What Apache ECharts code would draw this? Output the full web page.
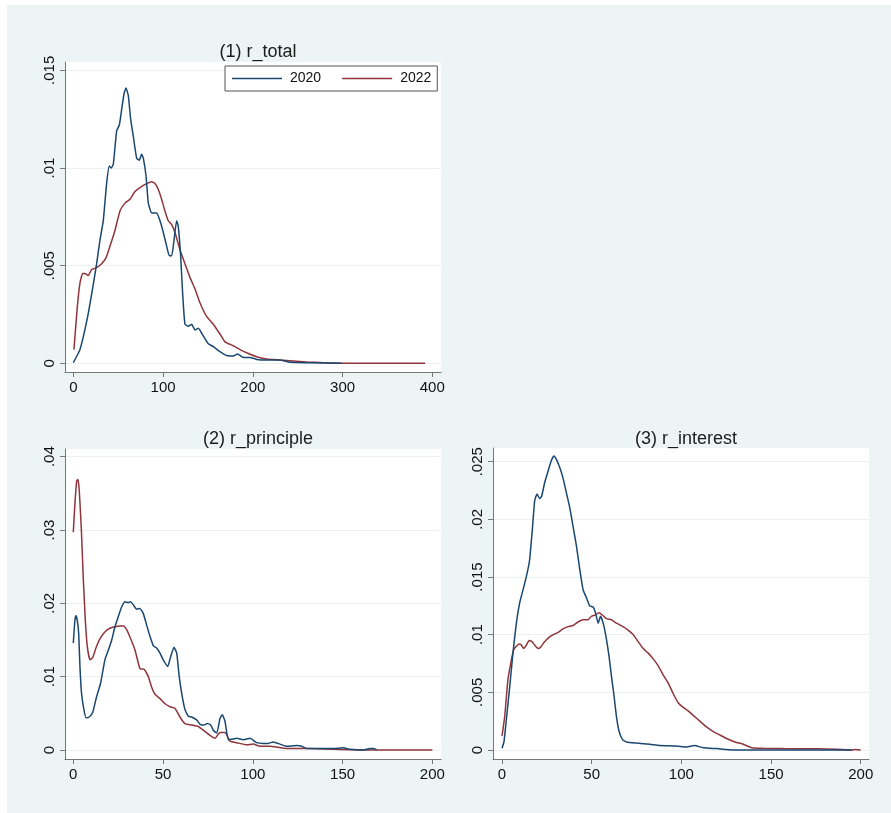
<!DOCTYPE html>
<html>
<head>
<meta charset="utf-8">
<script src="https://cdn.jsdelivr.net/npm/echarts@6/dist/echarts.min.js"></script>
<style>
html,body{margin:0;padding:0;background:#fff;}
#wrap{position:relative;width:891px;height:813px;}
#bg{position:absolute;left:7px;top:5px;width:884px;height:808px;background:#ECF4F6;}
#chart{position:absolute;left:0;top:0;width:891px;height:813px;}
</style>
</head>
<body>
<div id="wrap"><div id="bg"></div><div id="chart"></div></div>
<script>
// ---- data (x, density) ----
const total2020 = [[0,0.00003],[7.4,0.0007],[15.6,0.0023],[21,0.0037],[26,0.0051],[29.7,0.0063],[33.4,0.0073],[37.1,0.0092],[40.1,0.0101],[42.3,0.0100],[44.6,0.0102],[48.3,0.0119],[51.3,0.0122],[53.9,0.0130],[56.5,0.0138],[58.7,0.0141],[61.3,0.0137],[63.9,0.0125],[66.9,0.0116],[70.6,0.0105],[73.5,0.0104],[76.1,0.0107],[78,0.0105],[81,0.0096],[83.6,0.0082],[87.3,0.0077],[92.9,0.0077],[96.6,0.0073],[100.3,0.0067],[104,0.0060],[107,0.0055],[109.6,0.0055],[112.2,0.0063],[115.1,0.0073],[117,0.0070],[119.6,0.0055],[121.8,0.0036],[124.4,0.0020],[128.1,0.0019],[131.9,0.0020],[135.6,0.0017],[139.3,0.0018],[144.8,0.0014],[150.4,0.0010],[156,0.00085],[163.4,0.0006],[170.8,0.0004],[178.3,0.00037],[183,0.00048],[189.4,0.0003],[196.8,0.0003],[204.3,0.0002],[215.4,0.00017],[230.3,0.00017],[241.4,0.00005],[263.7,0.00003],[299,0]];
const total2022 = [[0.7,0.0007],[4.5,0.0029],[7.4,0.0041],[10.4,0.0046],[13,0.0046],[16.7,0.0045],[20.4,0.0048],[26,0.0049],[31.6,0.0051],[36.4,0.0054],[40.9,0.0060],[46.4,0.0068],[52,0.0078],[57.6,0.0082],[63.2,0.0084],[68.7,0.0088],[74.3,0.0090],[81.7,0.0092],[87.3,0.0093],[91,0.0092],[94.7,0.0089],[98.4,0.0084],[102.1,0.0078],[105.8,0.0073],[109.6,0.0071],[113.3,0.0067],[118.9,0.0058],[124.4,0.0051],[130,0.0044],[135.6,0.0038],[141.1,0.0031],[148.5,0.0024],[156,0.0020],[163.4,0.0015],[169,0.0011],[178.3,0.0009],[185.7,0.0007],[195,0.0005],[204.3,0.00034],[215.4,0.00022],[230,0.00017],[245,0.00012],[260,0.00007],[278.5,0.00003],[308,0],[392,0]];
const principle2020 = [[0,0.0146],[0.9,0.0177],[1.5,0.0183],[2.2,0.0177],[3,0.0159],[3.7,0.0114],[4.6,0.0077],[5.9,0.0055],[7.1,0.0044],[8.9,0.0045],[10.8,0.0051],[13,0.0073],[15.2,0.0091],[17.6,0.0123],[19.5,0.0136],[21.4,0.0150],[23.2,0.0168],[25.1,0.0182],[26.9,0.0195],[28.8,0.0202],[30.6,0.0201],[31.9,0.0202],[33.4,0.0198],[35.3,0.0192],[37.1,0.0193],[39,0.0186],[40.9,0.0170],[42.7,0.0155],[44.6,0.0142],[46.4,0.0139],[48.3,0.0132],[50.1,0.0123],[52.6,0.0114],[54.2,0.0127],[56.1,0.0140],[57.6,0.0132],[59,0.0100],[60.4,0.0077],[62.2,0.0055],[64.1,0.0046],[65.9,0.0045],[68.7,0.0041],[70.6,0.0035],[72.8,0.0034],[74.6,0.0036],[76.5,0.0034],[78,0.0027],[79.9,0.0023],[81.7,0.0043],[83,0.0048],[84.5,0.0039],[86.4,0.0014],[89.1,0.0015],[91,0.0016],[94.7,0.0014],[98.4,0.0016],[102.1,0.0010],[105.8,0.0009],[108.6,0.0009],[111.4,0.0011],[115.1,0.0008],[118.8,0.0005],[124.4,0.0006],[127.2,0.0005],[130,0.0002],[137.4,0.0002],[144.8,0.0002],[150.4,0.0003],[154.1,0.0001],[161.6,0],[165.3,0.0002],[167.5,0.0002],[169,0]];
const principle2022 = [[0,0.0297],[0.9,0.0336],[1.9,0.0367],[2.6,0.0369],[3.3,0.0355],[4.5,0.0300],[5.6,0.0232],[6.7,0.0177],[7.8,0.0141],[9.3,0.0123],[10.8,0.0126],[12.6,0.0139],[14.9,0.0152],[17.6,0.0161],[20.4,0.0166],[23.2,0.0168],[26,0.0169],[27.9,0.0169],[29.7,0.0164],[31.9,0.0152],[34.4,0.0136],[37.1,0.0111],[39.4,0.0110],[41.8,0.0100],[43.6,0.0086],[45.5,0.0076],[48.3,0.0070],[51.1,0.0063],[53.9,0.0059],[56.6,0.0057],[59.4,0.0045],[62.2,0.0036],[65.9,0.0034],[69.6,0.0032],[72.4,0.0027],[76.1,0.0020],[78.9,0.0016],[81.7,0.0024],[84.5,0.0024],[87.3,0.0012],[91,0.0010],[96.6,0.0007],[100.3,0.0008],[104,0.0005],[109.6,0.0005],[113.3,0.0004],[118.8,0.0002],[126.3,0.0002],[135.6,0.00018],[144.8,0.0001],[163.4,0],[200,0]];
const interest2020 = [[0,0.00015],[1.1,0.0007],[2.4,0.0026],[4.3,0.0055],[6.1,0.0084],[8,0.0110],[9.9,0.0128],[12.1,0.0141],[14.1,0.0154],[15.4,0.0165],[16.9,0.0191],[18.2,0.0216],[19.5,0.0222],[21,0.0218],[22.1,0.0220],[23.8,0.0232],[25.7,0.0242],[27.5,0.0251],[29,0.0255],[30.3,0.0252],[32.2,0.0245],[34,0.0236],[35.9,0.0223],[37.8,0.0210],[39.6,0.0194],[41.5,0.0177],[43.3,0.0157],[45.2,0.0139],[47.1,0.0132],[48.9,0.0125],[50.8,0.0124],[52.1,0.0119],[53.6,0.0110],[54.9,0.0116],[56.4,0.0110],[57.9,0.0099],[59.7,0.0081],[61,0.0064],[62.3,0.0049],[63.8,0.0029],[65.3,0.0016],[67.2,0.0009],[69.4,0.0007],[75,0.0006],[82.4,0.0005],[88,0.0004],[97.3,0.00035],[102.9,0.00026],[107.2,0.00038],[112.2,0.0002],[119.6,0.00012],[128.9,0],[156.8,0],[195,0]];
const interest2022 = [[0,0.0012],[1.5,0.0029],[3.3,0.0061],[5.2,0.0078],[6.5,0.0087],[8,0.0090],[9.5,0.0092],[10.8,0.0091],[12.1,0.0088],[13.6,0.0091],[15.1,0.0095],[16.7,0.0094],[18.2,0.0091],[20.1,0.0088],[21.4,0.0089],[23.3,0.0093],[25.7,0.0097],[28.5,0.0100],[31.3,0.0102],[34,0.0105],[36.8,0.0107],[39.6,0.0108],[42.4,0.0111],[45.2,0.0113],[48,0.0113],[49.9,0.0116],[51.7,0.0117],[54.1,0.0119],[56,0.0117],[58.2,0.0114],[61,0.0113],[63.8,0.0110],[67.5,0.0107],[70.3,0.0104],[73.2,0.0100],[75.9,0.0094],[78.7,0.0088],[81.5,0.0084],[84.3,0.0079],[87.1,0.0073],[89.9,0.0065],[92.7,0.0058],[95.4,0.0049],[98.2,0.0041],[101,0.0037],[103.8,0.0034],[106.6,0.0030],[110.3,0.0025],[114,0.0020],[117.8,0.0016],[121.5,0.0013],[125.2,0.0010],[129.9,0.0007],[134.5,0.0005],[139.2,0.0002],[145.7,0.00015],[156.8,0.00012],[175.4,0.0001],[186.6,0.00006],[195,0],[197,0.00005],[200,0]];

const titles = ['(1) r_total', '(2) r_principle', '(3) r_interest'];
const seriesNames = ['2020', '2022'];
const xTicks1 = [0, 100, 200, 300, 400];
const xTicks23 = [0, 50, 100, 150, 200];
const yTicks1 = [0, 0.005, 0.01, 0.015];
const yLabels1 = ['0', '.005', '.01', '.015'];
const yTicks2 = [0, 0.01, 0.02, 0.03, 0.04];
const yLabels2 = ['0', '.01', '.02', '.03', '.04'];
const yTicks3 = [0, 0.005, 0.01, 0.015, 0.02, 0.025];
const yLabels3 = ['0', '.005', '.01', '.015', '.02', '.025'];

const BLUE = '#1a476f', RED = '#90353b';
const FONT = 'Liberation Sans, Arial, sans-serif';

function labelFor(ticks, labels) {
  return function (v) {
    for (let i = 0; i < ticks.length; i++) if (Math.abs(ticks[i] - v) < 1e-9) return labels[i];
    return '';
  };
}

const grids = [
  {left: 65, top: 62, width: 376, height: 310},
  {left: 65, top: 449, width: 376, height: 310},
  {left: 493, top: 448, width: 376, height: 311}
];
const xRanges = [[-9.25, 409.7], [-4.62, 204.8], [-5.02, 204.6]];
const yRanges = [[-0.000445, 0.015425], [-0.00123, 0.04105], [-0.00078, 0.02619]];
const xT = [xTicks1, xTicks23, xTicks23];
const yT = [yTicks1, yTicks2, yTicks3];
const yL = [yLabels1, yLabels2, yLabels3];
const titleX = [253, 253, 681];
const titleY = [38, 425, 425];
const data = [[total2020, total2022], [principle2020, principle2022], [interest2020, interest2022]];

const axisColor = '#777';
const option = {
  backgroundColor: 'transparent',
  animation: false,
  title: titles.map((t, i) => ({
    text: t, left: titleX[i], top: titleY[i], textAlign: 'center',
    textStyle: {fontFamily: FONT, fontSize: 18, fontWeight: 'normal', color: '#1c1c1c'}
  })),
  legend: {
    data: seriesNames,
    icon: 'rect',
    left: 225, top: 66,
    padding: [4, 6, 4, 7],
    itemWidth: 50, itemHeight: 1.5, itemGap: 21,
    backgroundColor: '#fff', borderColor: '#555', borderWidth: 1,
    textStyle: {fontFamily: FONT, fontSize: 14, color: '#111', padding: [0, 0, 0, 3], lineHeight: 17}
  },
  grid: grids.map(g => Object.assign({show: true, backgroundColor: '#fff', borderWidth: 0}, g)),
  xAxis: grids.map((g, i) => ({
    type: 'value', gridIndex: i, min: xRanges[i][0], max: xRanges[i][1],
    axisLine: {show: true, onZero: false, lineStyle: {color: axisColor, width: 1}},
    axisTick: {show: true, length: 5, customValues: xT[i], lineStyle: {color: axisColor}},
    axisLabel: {customValues: xT[i], fontFamily: FONT, fontSize: 15, color: '#111', margin: 8},
    splitLine: {show: false}
  })),
  yAxis: grids.map((g, i) => ({
    type: 'value', gridIndex: i, min: yRanges[i][0], max: yRanges[i][1],
    axisLine: {show: true, onZero: false, lineStyle: {color: axisColor, width: 1}},
    axisTick: {show: true, length: 5, customValues: yT[i], lineStyle: {color: axisColor}},
    axisLabel: {customValues: yT[i], rotate: 90, fontFamily: FONT, fontSize: 15, color: '#111', margin: 8,
      formatter: labelFor(yT[i], yL[i])},
    splitLine: {show: true, lineStyle: {color: '#EAF2F3', width: 1}}
  })),
  series: []
};
data.forEach((pair, i) => {
  pair.forEach((d, j) => {
    option.series.push({
      name: seriesNames[j], type: 'line', xAxisIndex: i, yAxisIndex: i,
      data: d, symbol: 'none', smooth: 0.15,
      lineStyle: {color: j === 0 ? BLUE : RED, width: 1.5},
      itemStyle: {color: j === 0 ? BLUE : RED},
      z: j === 0 ? 3 : 2
    });
  });
});
const chart = echarts.init(document.getElementById('chart'), null, {renderer: 'canvas'});
chart.setOption(option);
</script>
</body>
</html>
